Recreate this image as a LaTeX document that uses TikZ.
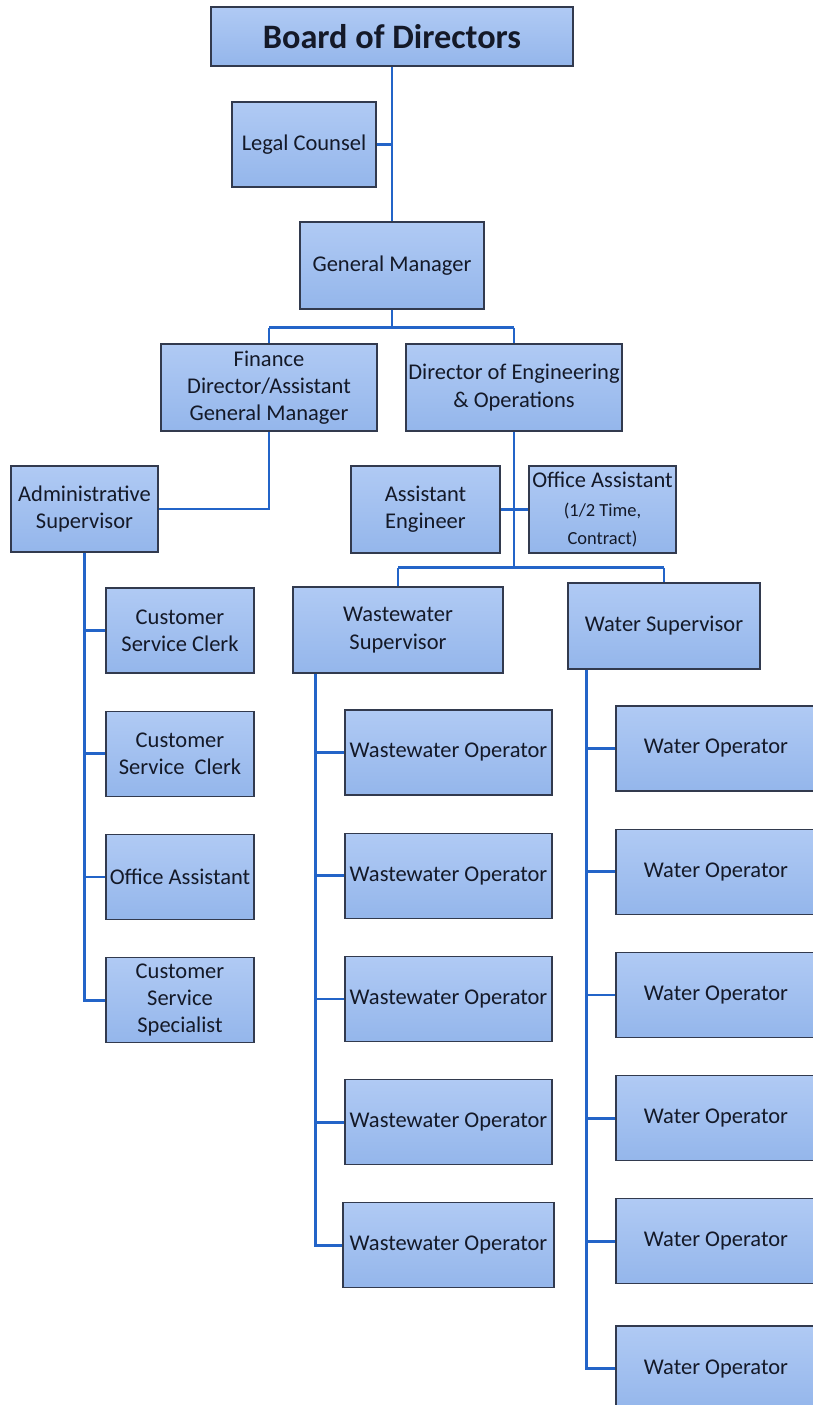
\documentclass[tikz,border=0pt]{standalone}
\usepackage{fontspec}
\setmainfont{Carlito}
\usepackage{tikz}
\usetikzlibrary{
    arrows.meta,
    positioning
}

\definecolor{boxtop}{RGB}{176,202,244}
\definecolor{boxbot}{RGB}{148,182,235}
\definecolor{boxline}{RGB}{50,58,78}
\definecolor{orgline}{RGB}{35,100,200}
\definecolor{orgtext}{RGB}{20,25,40}

\begin{document}
\begin{tikzpicture}[x=0.02cm, y=-0.02cm,
    font=\fontsize{12.8}{15.5}\selectfont,
    node distance=0.74cm,
    box/.style={
        rectangle,
        draw=boxline,
        top color=boxtop,
        bottom color=boxbot,
        line width=0.7pt,
        align=center,
        text=orgtext,
        inner sep=1pt,
        minimum height=1.7cm,
        minimum width=2.96cm
    },
    opbox/.style={
        box,
        minimum width=4.14cm
    },
    wopbox/.style={
        box,
        minimum width=4.0cm
    },
    conn/.style={draw=orgline, line width=1.6pt}
]
\clip (0,0) rectangle (813,1405);
\fill[white] (0,0) rectangle (813,1405);

% ===== TOP =====
\node[box, minimum width=7.24cm, minimum height=1.18cm,
    font=\fontsize{19.5}{22}\selectfont\bfseries] (board) at (392,36.5) {Board of Directors};
\node[box, minimum width=2.88cm] (legal) at (304,144.5) {Legal Counsel};
\node[box, minimum width=3.68cm, minimum height=1.74cm] (gm) at (392,265.5) {General Manager};

\node[box, minimum width=4.32cm, minimum height=1.74cm] (finance) at (269,387.5)
    {Finance\\Director/Assistant\\General Manager};
\node[box, minimum width=4.32cm, minimum height=1.74cm] (direng) at (514,387.5)
    {Director of Engineering\\\& Operations};

\draw[conn] (board.south) -- (gm.north);
\draw[conn] (legal.east) -- (legal.east -| board.south);
\draw[conn] (gm.south) -- ++(0,18) coordinate (gmj);
\draw[conn] (gmj -| finance.north) -- (gmj -| direng.north);
\draw[conn] (gmj -| finance.north) -- (finance.north);
\draw[conn] (gmj -| direng.north) -- (direng.north);

% ===== ADMINISTRATION =====
\node[box, minimum width=2.94cm, minimum height=1.72cm] (admin) at (84.5,509)
    {Administrative\\Supervisor};
\node[box, minimum width=2.96cm] (csc1) at (180,630.5) {Customer\\Service Clerk};
\node[box, below=of csc1] (csc2) {Customer\\Service\ \ Clerk};
\node[box, below=of csc2] (offa) {Office Assistant};
\node[box, below=of offa] (css) {Customer\\Service\\Specialist};

\draw[conn] (finance.south) |- (admin.east);
\draw[conn] (admin.south) |- (css.west);
\draw[conn] (csc1.west) -- (csc1.west -| admin.south);
\draw[conn] (csc2.west) -- (csc2.west -| admin.south);
\draw[conn] (offa.west) -- (offa.west -| admin.south);

% ===== ENGINEERING =====
\node[box, minimum width=2.98cm, minimum height=1.74cm] (asseng) at (425.5,509.5)
    {Assistant\\Engineer};
\node[box, minimum width=2.94cm, minimum height=1.74cm] (offasst) at (602.5,509.5)
    {Office Assistant\\[1pt]{\fontsize{10.5}{12.5}\selectfont (1/2 Time,}\\{\fontsize{10.5}{12.5}\selectfont Contract)}};

\node[box, minimum width=4.2cm, minimum height=1.72cm] (wwsup) at (398,630)
    {Wastewater\\Supervisor};
\node[box, minimum width=3.84cm, minimum height=1.72cm] (wsup) at (664,626)
    {Water Supervisor};

\draw[conn] (asseng.east) -- (offasst.west);
\draw[conn] (direng.south) -- ++(0,136) coordinate (dej);
\draw[conn] (dej -| wwsup.north) -- (dej -| wsup.north);
\draw[conn] (dej -| wwsup.north) -- (wwsup.north);
\draw[conn] (dej -| wsup.north) -- (wsup.north);

% Wastewater operators
\node[opbox] (wwop1) at (448.5,752.5) {Wastewater Operator};
\node[opbox, below=of wwop1] (wwop2) {Wastewater Operator};
\node[opbox, below=of wwop2] (wwop3) {Wastewater Operator};
\node[opbox, below=of wwop3] (wwop4) {Wastewater Operator};
\node[opbox, below=of wwop4, minimum width=4.22cm] (wwop5) {Wastewater Operator};

\coordinate[xshift=0.46cm] (wwbus) at (wwsup.south west);
\draw[conn] (wwbus) |- (wwop5.west);
\draw[conn] (wwop1.west) -- (wwop1.west -| wwbus);
\draw[conn] (wwop2.west) -- (wwop2.west -| wwbus);
\draw[conn] (wwop3.west) -- (wwop3.west -| wwbus);
\draw[conn] (wwop4.west) -- (wwop4.west -| wwbus);

% Water operators
\node[wopbox] (wop1) at (716,748.5) {Water Operator};
\node[wopbox, below=of wop1] (wop2) {Water Operator};
\node[wopbox, below=of wop2] (wop3) {Water Operator};
\node[wopbox, below=of wop3] (wop4) {Water Operator};
\node[wopbox, below=of wop4] (wop5) {Water Operator};
\node[wopbox, below=0.82cm of wop5] (wop6) {Water Operator};

\coordinate[xshift=0.38cm] (wbus) at (wsup.south west);
\draw[conn] (wbus) |- (wop6.west);
\draw[conn] (wop1.west) -- (wop1.west -| wbus);
\draw[conn] (wop2.west) -- (wop2.west -| wbus);
\draw[conn] (wop3.west) -- (wop3.west -| wbus);
\draw[conn] (wop4.west) -- (wop4.west -| wbus);
\draw[conn] (wop5.west) -- (wop5.west -| wbus);

\end{tikzpicture}
\end{document}
